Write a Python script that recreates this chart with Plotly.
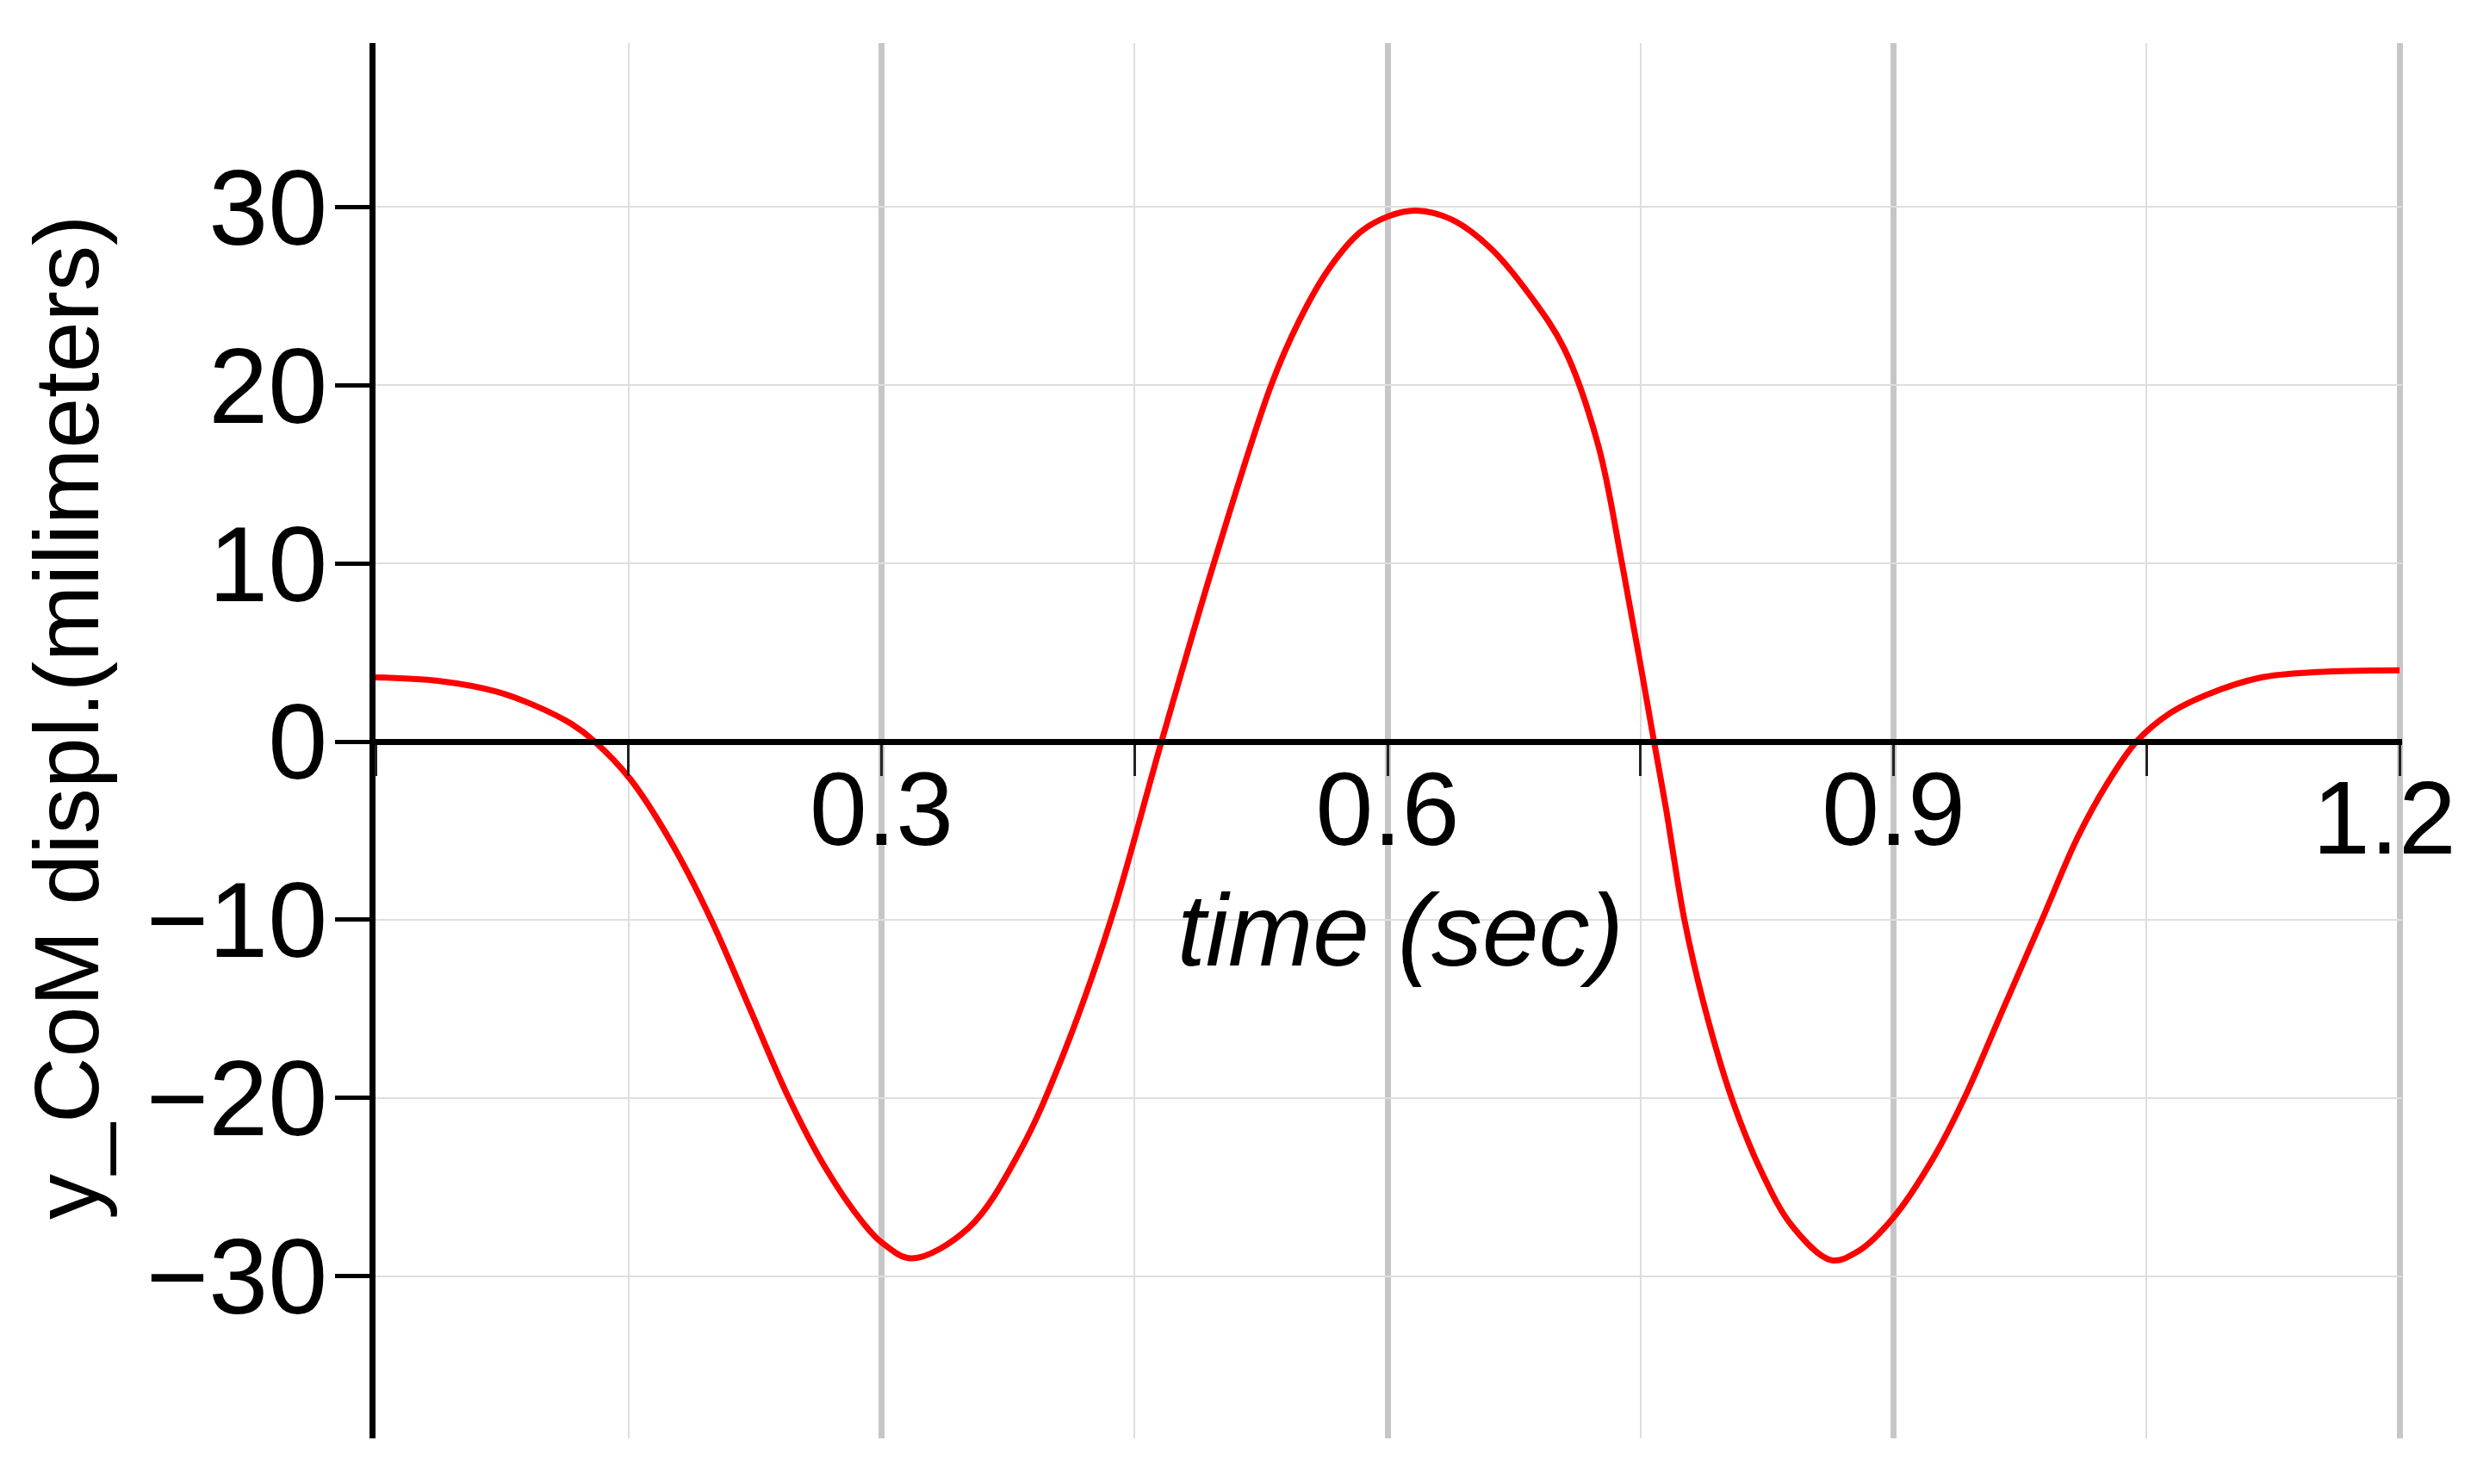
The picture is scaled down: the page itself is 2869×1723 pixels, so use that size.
import plotly.graph_objects as go

# curve (time in s, displacement in mm)
time_s = [0.0, 0.038, 0.072, 0.095, 0.116, 0.130, 0.151, 0.175, 0.199, 0.222,
          0.245, 0.266, 0.289, 0.300, 0.318, 0.3515, 0.382, 0.408, 0.436, 0.466,
          0.497, 0.531, 0.547, 0.565, 0.584, 0.601, 0.617, 0.638, 0.661, 0.684,
          0.705, 0.725, 0.739, 0.750, 0.758, 0.765, 0.776, 0.788, 0.804, 0.822,
          0.840, 0.863, 0.879, 0.900, 0.924, 0.942, 0.965, 0.988, 1.009, 1.027,
          1.044, 1.064, 1.085, 1.118, 1.151, 1.200]
y_com = [3.6, 3.4, 2.8, 2.0, 1.0, 0.0, -2.1, -5.6, -10.0, -15.0,
         -20.0, -23.8, -27.0, -28.1, -29.0, -27.3, -23.0, -17.5, -10.0, 0.0,
         10.0, 20.0, 23.5, 26.5, 28.6, 29.5, 29.8, 29.3, 27.7, 25.1,
         22.0, 16.6, 10.0, 4.3, 0.0, -3.7, -10.0, -14.9, -20.0, -24.2,
         -27.2, -29.1, -28.6, -26.7, -23.3, -20.0, -15.0, -10.0, -5.4, -2.3,
         0.0, 1.6, 2.6, 3.6, 3.9, 4.0]

x_ticks = [0.3, 0.6, 0.9, 1.2]
x_ticklabels = ["0.3", "0.6", "0.9", "1.2"]
y_ticks = [-30, -20, -10, 0, 10, 20, 30]
y_ticklabels = ["\u221230", "\u221220", "\u221210", "0", "10", "20", "30"]
y_major_grid = [-20, 20]

x_range = [0, 1.2015]
y_range = [-39.1, 39.2]

FONT = "Liberation Sans, Arial, sans-serif"
MAJOR_GRID = "#c6c6c6"
MINOR_GRID = "#dedede"

fig = go.Figure()
fig.add_trace(go.Scatter(
    x=time_s, y=y_com, mode="lines",
    line=dict(color="#ff0000", width=7, shape="spline", smoothing=1.0),
    showlegend=False, hoverinfo="skip",
))

# x axis sits on y = 0
x_pos = (0 - y_range[0]) / (y_range[1] - y_range[0])

# last label is pulled in from the right edge, like in the original
tick_text = x_ticklabels[:-1] + [""]

# page body keeps its 8px default margin, so the figure is 16px smaller
fig.update_layout(
    width=2853, height=1707,
    margin=dict(l=428, r=72, t=42, b=45),
    paper_bgcolor="white", plot_bgcolor="white",
    font=dict(family=FONT, color="black", size=118),
    xaxis=dict(
        range=x_range, anchor="free", position=x_pos, automargin=False,
        tickvals=x_ticks, ticktext=tick_text, ticks="",
        ticklabelstandoff=-28,
        showgrid=True, gridcolor=MAJOR_GRID, gridwidth=7,
        showline=True, linecolor="black", linewidth=7,
        zeroline=False,
        minor=dict(dtick=0.15, tick0=0, ticks="outside", ticklen=36,
                   tickwidth=3, tickcolor="#222222",
                   showgrid=True, gridcolor=MINOR_GRID, gridwidth=2),
        tickfont=dict(size=120),
    ),
    yaxis=dict(
        range=y_range, anchor="x", automargin=False,
        tickvals=y_ticks, ticktext=y_ticklabels,
        ticks="outside", ticklen=40, tickwidth=5, tickcolor="black",
        ticklabelstandoff=-16,
        showgrid=True, gridcolor=MINOR_GRID, gridwidth=2,
        showline=True, linecolor="black", linewidth=7,
        zeroline=False,
        tickfont=dict(size=124),
    ),
    yaxis2=dict(
        range=y_range, overlaying="y", anchor="x", side="left",
        automargin=False,
        tickvals=y_major_grid, showticklabels=False, ticks="",
        showgrid=True, gridcolor=MAJOR_GRID, gridwidth=7,
        showline=False, zeroline=False,
    ),
    annotations=[
        dict(text=x_ticklabels[-1], xref="x", yref="y",
             x=x_ticks[-1], y=0, xanchor="center", yanchor="top",
             xshift=-18, yshift=-19, showarrow=False,
             font=dict(size=120)),
        dict(text="<i>time (sec)</i>", xref="paper", yref="paper",
             x=0.5057, y=0.364, xanchor="center", yanchor="middle",
             showarrow=False, font=dict(size=118)),
        dict(text="y_CoM displ.(milimeters)", xref="paper", yref="paper",
             x=-0.1526, y=0.5167, xanchor="center", yanchor="middle",
             textangle=-90, showarrow=False, font=dict(size=106)),
    ],
)

fig.write_html("out.html", config={"displayModeBar": False})
